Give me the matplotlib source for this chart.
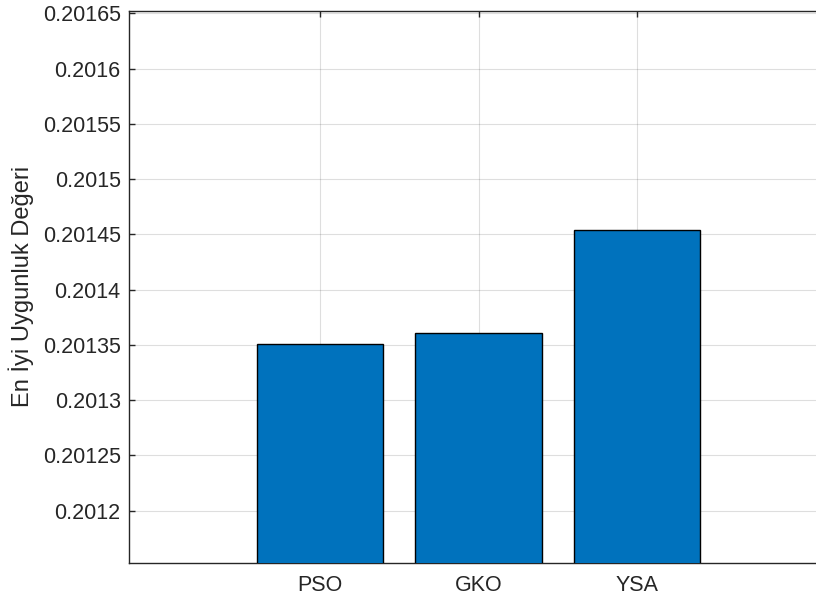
import matplotlib
matplotlib.use("Agg")
import matplotlib.pyplot as plt
from matplotlib.ticker import FixedLocator, FuncFormatter

categories = ["PSO", "GKO", "YSA"]
best_fitness = [0.201351, 0.2013609, 0.2014543]
y_ticks = [0.2012, 0.20125, 0.2013, 0.20135, 0.2014, 0.20145, 0.2015, 0.20155, 0.2016, 0.20165]
y_label = "En İyi Uygunluk Değeri"

text_color = "#262626"
bar_color = "#0072BD"

plt.rcParams["font.family"] = ["Liberation Sans", "DejaVu Sans"]

fig = plt.figure(figsize=(8.16, 6.04), dpi=100)
ax = fig.add_axes([0.1581, 0.0679, 0.8566, 0.9147])

x = list(range(1, len(categories) + 1))
ax.bar(x, best_fitness, width=0.8, color=bar_color, edgecolor="black",
       linewidth=1.0, zorder=3)

ax.set_xlim(-0.205, 4.205)
ax.set_ylim(0.2011527, 0.2016525)
ax.set_xticks(x)
ax.set_xticklabels(categories)
ax.yaxis.set_major_locator(FixedLocator(y_ticks))
ax.yaxis.set_major_formatter(FuncFormatter(lambda v, p: f"{v:.5f}".rstrip("0")))

ax.grid(True, color=text_color, alpha=0.15, linewidth=0.8, zorder=0)
ax.set_axisbelow(True)

for s in ax.spines.values():
    s.set_color(text_color)
    s.set_linewidth(1.0)

ax.tick_params(axis="both", direction="in", length=4.3, width=1.0,
               colors=text_color, labelsize=15.5, top=True, right=True)
ax.tick_params(axis="x", pad=9)
ax.tick_params(axis="y", pad=6)

ax.set_ylabel(y_label, fontsize=17, color=text_color, labelpad=6)

fig.savefig("out.png", dpi=100)
